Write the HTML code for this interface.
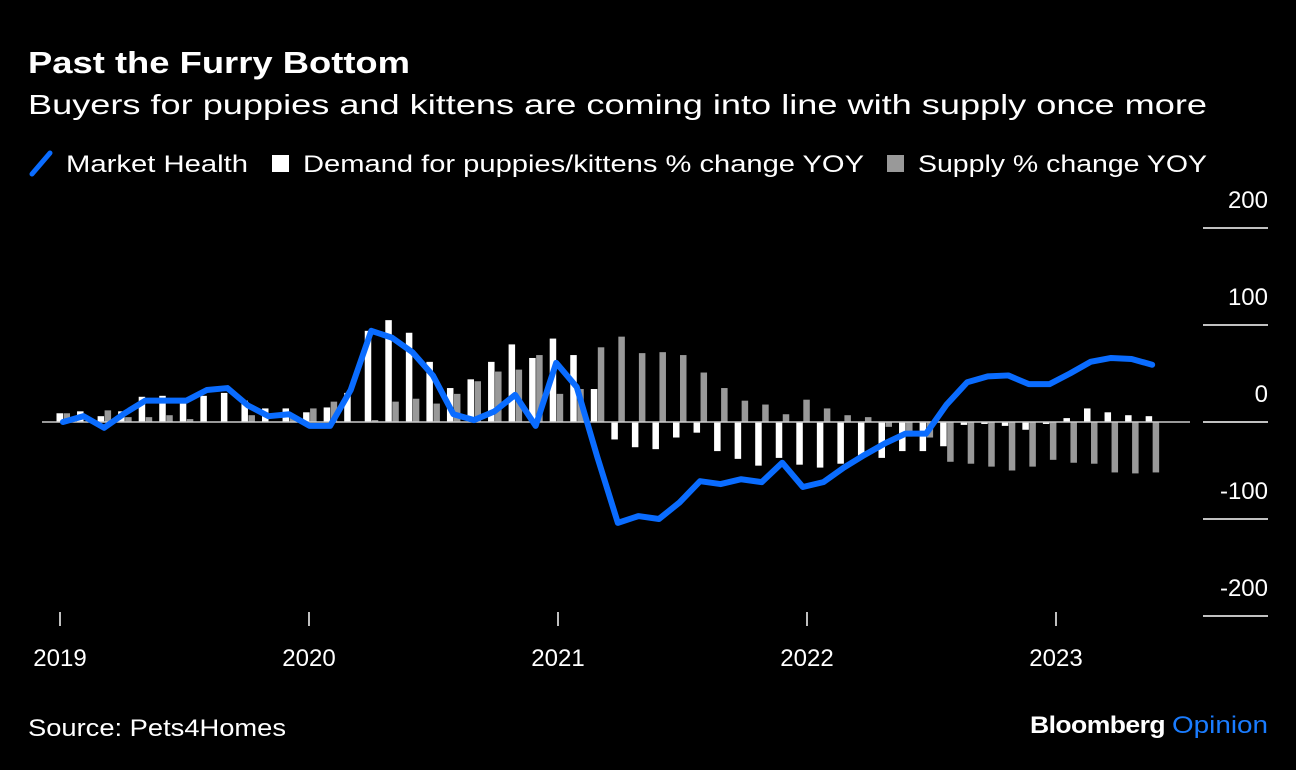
<!DOCTYPE html>
<html><head><meta charset="utf-8"><style>
body{margin:0;background:#000;width:1296px;height:770px;overflow:hidden;font-family:"Liberation Sans",sans-serif;color:#fff}
</style></head><body>
<svg width="1296" height="770" style="position:absolute;left:0;top:0">
<text x="28" y="73" font-size="31" font-weight="bold" fill="#fff" textLength="382" lengthAdjust="spacingAndGlyphs">Past the Furry Bottom</text>
<text x="28" y="114" font-size="28" fill="#fff" textLength="1179" lengthAdjust="spacingAndGlyphs">Buyers for puppies and kittens are coming into line with supply once more</text>
<g font-size="24" fill="#fff">
<line x1="32" y1="174" x2="50" y2="153" stroke="#0a6cff" stroke-width="5" stroke-linecap="round"/>
<text x="66" y="172" textLength="182" lengthAdjust="spacingAndGlyphs">Market Health</text>
<rect x="272" y="155" width="17" height="17" fill="#fff"/>
<text x="303" y="172" textLength="561" lengthAdjust="spacingAndGlyphs">Demand for puppies/kittens % change YOY</text>
<rect x="887" y="155" width="17" height="17" fill="#999"/>
<text x="918" y="172" textLength="289" lengthAdjust="spacingAndGlyphs">Supply % change YOY</text>
</g>
<g id="plot"></g>
<text x="28" y="736" font-size="24" fill="#fff" textLength="258" lengthAdjust="spacingAndGlyphs">Source: Pets4Homes</text>
<text x="1030" y="733" font-size="24" font-weight="bold" fill="#fff" textLength="135" lengthAdjust="spacingAndGlyphs" letter-spacing="-0.5">Bloomberg</text>
<text x="1172" y="733" font-size="24" fill="#1a7cff" textLength="96" lengthAdjust="spacingAndGlyphs">Opinion</text>
</svg>
<script>
const marketHealth=[0,6,-6,9,22,22,22,33,35,17,6,8,-4,-4,33,94,87,72,48,8,2,11,28,-4,61,36,-36,-104,-97,-100,-83,-61,-64,-59,-62,-42,-67,-62,-47,-34,-22,-12,-12,18,41,47,48,39,39,50,62,66,65,59];
const demand=[9,11,6,11,26,27,19,27,30,22,14,14,10,15,30,94,105,92,62,35,44,62,80,66,86,69,34,-18,-26,-28,-16,-11,-30,-38,-45,-37,-44,-47,-43,-36,-37,-30,-30,-25,-3,-2,-4,-8,-2,4,14,10,7,6];
const supply=[9,0,12,5,5,7,3,0,0,7,0,5,14,21,0,2,21,24,19,29,42,52,54,69,29,34,77,88,71,72,69,51,35,22,18,8,23,14,7,5,-5,-15,-16,-41,-43,-46,-50,-46,-39,-42,-43,-52,-53,-52];
const yTicks=[200,100,0,-100,-200];
const yearLabels=["2019","2020","2021","2022","2023"];
const NS="http://www.w3.org/2000/svg";
const plot=document.getElementById('plot');
const X=i=>63+i*20.55;
const Y=v=>422-v*0.97;
const YX=k=>60+k*249;
function mk(t,a){const e=document.createElementNS(NS,t);for(const k in a)e.setAttribute(k,a[k]);plot.appendChild(e);return e;}
yTicks.forEach(t=>{
 const l=mk('line',{x1:1203,x2:1268,y1:Y(t),y2:Y(t),stroke:'#fff','stroke-width':1.5});
 
 
 const tx=mk('text',{x:1268,y:Y(t)-20,'font-size':24,fill:'#fff','text-anchor':'end'});
 tx.textContent=String(t);
 
 
});
yearLabels.forEach((s,k)=>{
 const x=YX(k);
 const l=mk('line',{x1:x,x2:x,y1:612,y2:626,stroke:'#fff','stroke-width':1.5});
 
 
 const tx=mk('text',{x:x,y:666,'font-size':24,fill:'#fff','text-anchor':'middle'});
 tx.textContent=s;
 
 
});
demand.forEach((v,i)=>{
 const r=mk('rect',{x:X(i)-6.5,width:6.5,y:Math.min(Y(v),Y(0)),height:Math.abs(Y(v)-Y(0)),fill:'#fff'});
 
 
});
supply.forEach((v,i)=>{
 const r=mk('rect',{x:X(i)+0.5,width:6.5,y:Math.min(Y(v),Y(0)),height:Math.abs(Y(v)-Y(0)),fill:'#999'});
 
 
});
const z=mk('line',{x1:42,x2:1190,y1:Y(0),y2:Y(0),stroke:'#ccc','stroke-width':1.5});


const p=mk('polyline',{points:marketHealth.map((v,i)=>X(i)+','+Y(v)).join(' '),fill:'none',stroke:'#0a6cff','stroke-width':6,'stroke-linejoin':'round','stroke-linecap':'round'});


</script>
</body></html>
